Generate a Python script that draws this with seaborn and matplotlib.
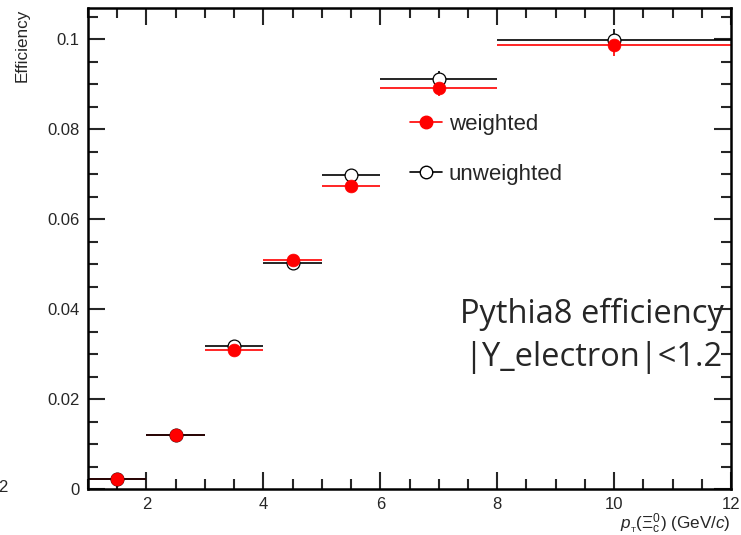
import numpy as np
import pandas as pd
import seaborn as sns
import matplotlib
matplotlib.use("Agg")
import matplotlib.pyplot as plt
from matplotlib.ticker import MultipleLocator
from matplotlib.lines import Line2D

# Data
bin_lo = [1, 2, 3, 4, 5, 6, 8]
bin_hi = [2, 3, 4, 5, 6, 8, 12]
weighted = [0.0022, 0.0121, 0.0309, 0.0509, 0.0673, 0.0891, 0.0987]
weighted_err = [0.0002, 0.0004, 0.0006, 0.0008, 0.0011, 0.0017, 0.0024]
unweighted = [0.0022, 0.0121, 0.0318, 0.0502, 0.0697, 0.0911, 0.0998]
unweighted_err = [0.0002, 0.0004, 0.0006, 0.0008, 0.0011, 0.0017, 0.0024]
x_ticks = [2, 4, 6, 8, 10, 12]
x_ticklabels = ["2", "4", "6", "8", "10", "12"]
y_ticks = [0, 0.02, 0.04, 0.06, 0.08, 0.1]
y_ticklabels = ["0", "0.02", "0.04", "0.06", "0.08", "0.1"]

centers = [(a + b) / 2 for a, b in zip(bin_lo, bin_hi)]
halfw = [(b - a) / 2 for a, b in zip(bin_lo, bin_hi)]

df = pd.DataFrame({
    "pt": centers * 2,
    "eff": unweighted + weighted,
    "kind": ["unweighted"] * 7 + ["weighted"] * 7,
})

sns.set_theme(style="ticks")
plt.rcParams["font.family"] = ["Liberation Sans", "DejaVu Sans"]
plt.rcParams["mathtext.fontset"] = "custom"
plt.rcParams["mathtext.it"] = "Liberation Sans:italic"
plt.rcParams["mathtext.rm"] = "Liberation Sans"

fig = plt.figure(figsize=(7.41, 5.35), dpi=100)
ax = fig.add_axes([88 / 741, 1 - 489 / 535, (731 - 88) / 741, (489 - 8) / 535])

# Error bars
ax.errorbar(centers, weighted, xerr=halfw, yerr=weighted_err, fmt="none",
            ecolor="red", elinewidth=1.2, capsize=0, zorder=2)
ax.errorbar(centers, unweighted, xerr=halfw, yerr=unweighted_err, fmt="none",
            ecolor="black", elinewidth=1.2, capsize=0, zorder=3)

# Markers
sns.scatterplot(data=df[df.kind == "unweighted"], x="pt", y="eff", ax=ax,
                marker="o", s=85, facecolor="white", edgecolor="black",
                linewidth=0.9, zorder=4, legend=False)
sns.scatterplot(data=df[df.kind == "weighted"], x="pt", y="eff", ax=ax,
                marker="o", s=85, color="red", edgecolor="red",
                linewidth=0.5, zorder=5, legend=False)

ax.set_xlim(1, 12)
ax.set_ylim(0, 0.1069)
ax.xaxis.set_minor_locator(MultipleLocator(0.5))
ax.yaxis.set_minor_locator(MultipleLocator(0.005))
ax.set_yticks(y_ticks)
ax.set_yticklabels(y_ticklabels)
ax.set_xticks(x_ticks)
ax.set_xticklabels(x_ticklabels)

ax.tick_params(which="both", direction="in", top=True, right=True,
               labelsize=12, width=1.5, pad=6)
ax.tick_params(which="major", length=12)
ax.tick_params(which="minor", length=7)
for sp in ax.spines.values():
    sp.set_linewidth(1.8)
    sp.set_color("black")
    sp.set_visible(True)
    sp.set_zorder(20)

ax.set_xlabel("")
ax.set_ylabel("")
fig.text(22 / 741, 1 - 9 / 535, "Efficiency", rotation=90, ha="center", va="top", fontsize=12.3)
fig.text(731 / 741, 1 - 524 / 535, r"$p_{_\mathrm{T}}$($\Xi_{\mathrm{c}}^{0}$) (GeV/$c$)",
         ha="right", va="center", fontsize=12.3)
fig.text(3 / 741, 1 - 488 / 535, "2", ha="center", va="center", fontsize=12)

# Legend
handles = [
    Line2D([], [], color="red", marker="o", markersize=9, markerfacecolor="red",
           markeredgecolor="red", linewidth=1.2),
    Line2D([], [], color="black", marker="o", markersize=9, markerfacecolor="white",
           markeredgecolor="black", linewidth=1.2),
]
leg = ax.legend(handles, ["weighted", "unweighted"], frameon=False,
                loc="upper left", bbox_to_anchor=((399 - 88) / 643, 1 - (103 - 8) / 481),
                fontsize=16, labelspacing=1.28, handlelength=1.45, handletextpad=0.3,
                borderpad=0)

fig.text(460 / 741, 1 - 314 / 535, "Pythia8 efficiency", fontsize=23.5,
         family=["Open Sans", "DejaVu Sans"], va="center", ha="left", zorder=10)
fig.text(464 / 741, 1 - 358 / 535, "|Y_electron|<1.2", fontsize=23.5,
         family=["Open Sans", "DejaVu Sans"], va="center", ha="left", zorder=10)

fig.savefig("out.png", dpi=100)
